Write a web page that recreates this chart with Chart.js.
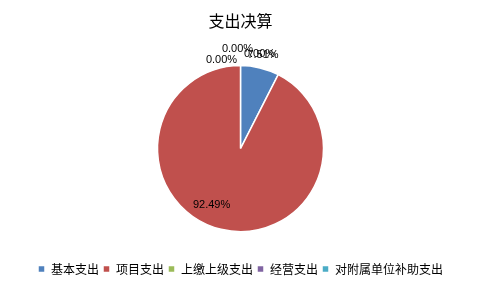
<!DOCTYPE html>
<html>
<head>
<meta charset="utf-8">
<script src="https://cdn.jsdelivr.net/npm/chart.js@4.4.0/dist/chart.umd.min.js"></script>
<style>
  html, body { margin: 0; padding: 0; background: #fff; }
  #wrap { width: 481px; height: 289px; }
</style>
</head>
<body>
<div id="wrap"><canvas id="myChart" width="481" height="289"></canvas></div>
<script>
var labels = ['基本支出', '项目支出', '上缴上级支出', '经营支出', '对附属单位补助支出'];
var values = [7.51, 92.49, 0, 0, 0];
var pctLabels = ['7.51%', '92.49%', '0.00%', '0.00%', '0.00%'];
var colors = ['#4F81BD', '#C0504D', '#9BBB59', '#8064A2', '#4BACC6'];

var fontFamily = '"Noto Sans CJK SC", "Microsoft YaHei", sans-serif';

// percent labels, inside the big slice, outside for the small ones
var pieLabels = {
    id: 'pieLabels',
    afterDatasetsDraw: function(chart) {
        var ctx = chart.ctx;
        var arcs = chart.getDatasetMeta(0).data;
        ctx.save();
        ctx.font = '11px "Liberation Sans", Arial, sans-serif';
        ctx.fillStyle = '#000';
        ctx.textAlign = 'center';
        ctx.textBaseline = 'middle';
        var zeroIdx = 0;
        // zero slices all sit at the top, excel spreads their labels around it
        var zeroOffsets = [[-3, -100], [19, -95], [-19, -89]];
        arcs.forEach(function(arc, i) {
            var mid = (arc.startAngle + arc.endAngle) / 2;
            var r = arc.outerRadius;
            var x, y;
            if (values[i] > 50) {
                mid += 0.24;
                x = arc.x + Math.cos(mid) * r * 0.76;
                y = arc.y + Math.sin(mid) * r * 0.76;
            } else if (values[i] > 0) {
                x = arc.x + Math.cos(mid) * r * 1.16;
                y = arc.y + Math.sin(mid) * r * 1.16;
            } else {
                var o = zeroOffsets[zeroIdx++];
                x = arc.x + o[0];
                y = arc.y + o[1];
            }
            ctx.fillText(pctLabels[i], x, y);
        });
        ctx.restore();
    }
};

var ctx = document.getElementById('myChart').getContext('2d');
var myChart = new Chart(ctx, {
    type: 'pie',
    data: {
        labels: labels,
        datasets: [{
            data: values,
            backgroundColor: colors,
            borderColor: '#fff',
            borderWidth: 1.5,
            radius: 83
        }]
    },
    options: {
        responsive: false,
        animation: false,
        layout: { padding: { top: 0, bottom: 4 } },
        plugins: {
            title: {
                display: true,
                text: '支出决算',
                color: '#000',
                font: { size: 16, family: fontFamily, weight: 'normal' },
                padding: { top: 11, bottom: 8 }
            },
            legend: {
                position: 'bottom',
                labels: {
                    boxWidth: 7,
                    boxHeight: 7,
                    padding: 4,
                    color: '#000',
                    font: { size: 12, family: fontFamily }
                }
            },
            tooltip: { enabled: false }
        }
    },
    plugins: [pieLabels]
});
</script>
</body>
</html>
